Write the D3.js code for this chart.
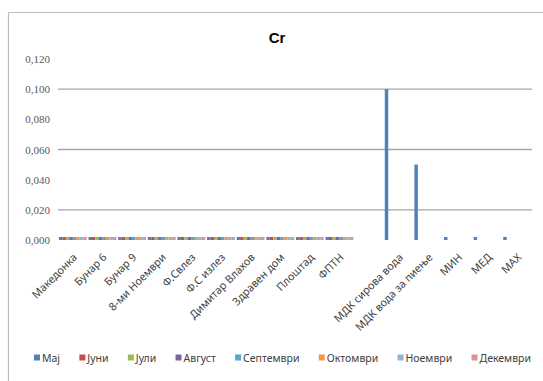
<!DOCTYPE html>
<html>
<head>
<meta charset="utf-8">
<script src="https://cdn.jsdelivr.net/npm/d3@7"></script>
<style>
  html, body { margin: 0; padding: 0; background: #fff; }
  svg { display: block; }
</style>
</head>
<body>
<svg id="chart" width="543" height="381"></svg>
<script>
// Sampling sites (one empty slot separates the sites from the limit values)
const categories = ["Македонка", "Бунар 6", "Бунар 9", "8-ми Ноември", "Ф.Свлез", "Ф.С излез",
  "Димитар Влахов", "Здравен дом", "Плоштад", "ФПТН", "", "МДК сирова вода",
  "МДК вода за пиење", "МИН", "МЕД", "МАХ"];

const months = ["Мај", "Јуни", "Јули", "Август", "Септември", "Октомври", "Ноември", "Декември"];
const monthColors = ["#4F81BD", "#C0504D", "#9BBB59", "#8064A2", "#4BACC6", "#F79646", "#95B3D7", "#DA9694"];

// Cr concentration per month for each category (null = no value)
const maj       = [0.002, 0.002, 0.002, 0.002, 0.002, 0.002, 0.002, 0.002, 0.002, 0.002, null, 0.100, 0.050, 0.002, 0.002, 0.002];
const juni      = [0.002, 0.002, 0.002, 0.002, 0.002, 0.002, 0.002, 0.002, 0.002, 0.002, null, null, null, null, null, null];
const juli      = [0.002, 0.002, 0.002, 0.002, 0.002, 0.002, 0.002, 0.002, 0.002, 0.002, null, null, null, null, null, null];
const avgust    = [0.002, 0.002, 0.002, 0.002, 0.002, 0.002, 0.002, 0.002, 0.002, 0.002, null, null, null, null, null, null];
const septemvri = [0.002, 0.002, 0.002, 0.002, 0.002, 0.002, 0.002, 0.002, 0.002, 0.002, null, null, null, null, null, null];
const oktomvri  = [0.002, 0.002, 0.002, 0.002, 0.002, 0.002, 0.002, 0.002, 0.002, 0.002, null, null, null, null, null, null];
const noemvri   = [0.002, 0.002, 0.002, 0.002, 0.002, 0.002, 0.002, 0.002, 0.002, 0.002, null, null, null, null, null, null];
const dekemvri  = [0.002, 0.002, 0.002, 0.002, 0.002, 0.002, 0.002, 0.002, 0.002, 0.002, null, null, null, null, null, null];
const seriesValues = [maj, juni, juli, avgust, septemvri, oktomvri, noemvri, dekemvri];

const yTicks = [0, 0.02, 0.04, 0.06, 0.08, 0.10, 0.12];
const yTickLabels = ["0,000", "0,020", "0,040", "0,060", "0,080", "0,100", "0,120"];
const gridTicks = [0.02, 0.06, 0.10];

const svg = d3.select("#chart");
const plot = { left: 58, right: 532, top: 59, bottom: 240 };

// outer chart frame
svg.append("path")
  .attr("d", `M8.5,${381}V12.5H${543}`)
  .attr("fill", "none")
  .attr("stroke", "#bdbdbd")
  .attr("stroke-width", 1.2);

svg.append("text")
  .attr("x", 277).attr("y", 43)
  .attr("text-anchor", "middle")
  .attr("font-family", "Liberation Sans, Arial, sans-serif")
  .attr("font-weight", "bold")
  .attr("font-size", 15)
  .attr("fill", "#000")
  .text("Cr");

const x0 = d3.scaleBand().domain(d3.range(categories.length))
  .range([plot.left, plot.right]).paddingInner(0.06).paddingOuter(0.03);
const x1 = d3.scaleBand().domain(d3.range(months.length))
  .range([0, x0.bandwidth()]);
const y = d3.scaleLinear().domain([0, 0.12]).range([plot.bottom, plot.top]);

// gridlines
svg.append("g").selectAll("line").data(gridTicks).join("line")
  .attr("x1", plot.left).attr("x2", plot.right)
  .attr("y1", d => y(d)).attr("y2", d => y(d))
  .attr("stroke", "#a6a6a6").attr("stroke-width", 1.3);

// y axis labels
const yAxis = d3.axisLeft(y).tickValues(yTicks)
  .tickFormat((d, i) => yTickLabels[i]).tickSize(0).tickPadding(8);
const gy = svg.append("g").attr("transform", `translate(${plot.left},0)`).call(yAxis);
gy.select(".domain").remove();
gy.selectAll("text")
  .attr("font-family", "Liberation Serif, Times New Roman, serif")
  .attr("font-size", 11)
  .attr("fill", "#595959");

// bars
const groups = svg.append("g").selectAll("g").data(categories).join("g")
  .attr("transform", (d, i) => `translate(${x0(i)},0)`);
groups.selectAll("rect")
  .data((d, i) => seriesValues.map((s, k) => ({ k, v: s[i] })).filter(e => e.v != null))
  .join("rect")
  .attr("x", e => x1(e.k))
  .attr("width", x1.bandwidth())
  .attr("y", e => y(e.v))
  .attr("height", e => y(0) - y(e.v))
  .attr("fill", e => monthColors[e.k]);

// category labels, rotated
const xAxis = d3.axisBottom(x0).tickFormat(i => categories[i]).tickSize(0).tickPadding(0);
const gx = svg.append("g").attr("transform", `translate(0,${plot.bottom})`).call(xAxis);
gx.select(".domain").remove();
gx.selectAll(".tick text")
  .attr("font-family", "Noto Sans, Open Sans, sans-serif")
  .attr("font-size", 10.8)
  .attr("fill", "#404040")
  .attr("text-anchor", "end")
  .attr("dy", 0)
  .attr("transform", "translate(5,18) rotate(-45)");

// legend
const legend = svg.append("g").attr("transform", "translate(0,358)");
const items = legend.selectAll("g").data(months).join("g");
items.append("rect")
  .attr("y", -3.5).attr("width", 6).attr("height", 6)
  .attr("fill", (d, i) => monthColors[i]);
items.append("text")
  .attr("x", 8).attr("y", 3.8)
  .attr("font-family", "Noto Sans, Open Sans, sans-serif")
  .attr("font-size", 10.5)
  .attr("fill", "#404040")
  .text(d => d);
const widths = items.nodes().map(n => 8 + d3.select(n).select("text").node().getComputedTextLength());
const legStart = 34, legEnd = 531;
const gap = (legEnd - legStart - d3.sum(widths)) / (months.length - 1);
let cx = legStart;
items.each(function (d, i) {
  d3.select(this).attr("transform", `translate(${cx},0)`);
  cx += widths[i] + gap;
});
</script>
</body>
</html>
